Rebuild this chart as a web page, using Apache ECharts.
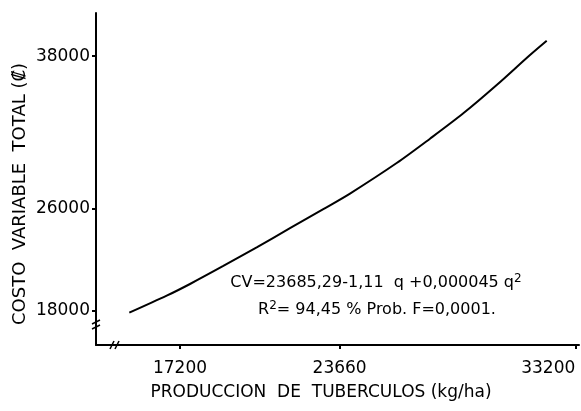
<!DOCTYPE html>
<html>
<head>
<meta charset="utf-8">
<script src="https://cdn.jsdelivr.net/npm/echarts@6/dist/echarts.min.js"></script>
<style>
html,body{margin:0;padding:0;background:#fff;}
#c{width:581px;height:411px;}
</style>
</head>
<body>
<div id="c"></div>
<script>
// Data
var produccion = [15148, 16662, 17605, 18953, 20305, 21652, 23000, 24081, 25971, 27319, 28667, 30019, 31367, 32043];
var costo      = [17839, 19176, 20096, 21511, 22980, 24480, 25980, 27206, 29606, 31520, 33515, 35740, 38099, 39223];
var xTicks = [17200, 23660, 33200];
var yTicks = [18000, 26000, 38000];
var xTitle = 'PRODUCCION  DE  TUBERCULOS (kg/ha)';
var yTitle = 'COSTO  VARIABLE  TOTAL (\u20A1)';
var eqLine1 = 'CV=23685,29-1,11  q +0,000045 q';
var eqLine2a = 'R';
var eqLine2b = '= 94,45 % Prob. F=0,0001.';

var FONT = 'DejaVu Sans';
var points = produccion.map(function (x, i) { return [x, costo[i]]; });

var chart = echarts.init(document.getElementById('c'));
chart.setOption({
  animation: false,
  backgroundColor: '#fff',
  grid: { left: 96, right: 2, top: 13, bottom: 66, containLabel: false, outerBoundsMode: 'none' },
  xAxis: {
    type: 'value', min: 13800, max: 33350,
    splitLine: { show: false },
    axisLine: { show: true, lineStyle: { color: '#000', width: 2 } },
    axisTick: { show: true, customValues: xTicks, length: 4, lineStyle: { color: '#000', width: 2 } },
    axisLabel: { customValues: xTicks, color: '#000', fontFamily: FONT, fontSize: 17, margin: 15,
      alignMaxLabel: 'right',
      formatter: function (v) { return String(v); } }
  },
  yAxis: {
    type: 'value', min: 15300, max: 41400,
    splitLine: { show: false },
    axisLine: { show: true, lineStyle: { color: '#000', width: 2 } },
    axisTick: { show: true, customValues: yTicks, length: 4, lineStyle: { color: '#000', width: 2 } },
    axisLabel: { customValues: yTicks, color: '#000', fontFamily: FONT, fontSize: 17, margin: 6,
      formatter: function (v) { return String(v); } }
  },
  series: [{
    type: 'line',
    data: points,
    smooth: 0.3,
    showSymbol: false,
    lineStyle: { color: '#000', width: 2 }
  }],
  graphic: [
    { type: 'text', x: 20, y: 194, rotation: Math.PI / 2,
      style: { text: yTitle, fill: '#000', font: '18px "' + FONT + '"', align: 'center', verticalAlign: 'middle' } },
    { type: 'text', x: 321, y: 393,
      style: { text: xTitle, fill: '#000', font: '17px "' + FONT + '"', align: 'center', verticalAlign: 'middle' } },
    { type: 'text', x: 376, y: 283,
      style: { text: '{a|' + eqLine1 + '}{s|2}', align: 'center', verticalAlign: 'middle',
        rich: { a: { fontFamily: FONT, fontSize: 16, fill: '#000', color: '#000', lineHeight: 20 },
                s: { fontFamily: FONT, fontSize: 12, fill: '#000', color: '#000', verticalAlign: 'top', lineHeight: 12 } } } },
    { type: 'text', x: 377, y: 310,
      style: { text: '{a|' + eqLine2a + '}{s|2}{a|' + eqLine2b + '}', align: 'center', verticalAlign: 'middle',
        rich: { a: { fontFamily: FONT, fontSize: 16, fill: '#000', color: '#000', lineHeight: 20 },
                s: { fontFamily: FONT, fontSize: 12, fill: '#000', color: '#000', verticalAlign: 'top', lineHeight: 12 } } } },
    // axis break marks
    { type: 'line', shape: { x1: 92, y1: 324, x2: 100, y2: 320 }, style: { stroke: '#000', lineWidth: 1.5 } },
    { type: 'line', shape: { x1: 92, y1: 329, x2: 100, y2: 325 }, style: { stroke: '#000', lineWidth: 1.5 } },
    { type: 'line', shape: { x1: 110, y1: 349, x2: 114, y2: 341 }, style: { stroke: '#000', lineWidth: 1.5 } },
    { type: 'line', shape: { x1: 115, y1: 349, x2: 119, y2: 341 }, style: { stroke: '#000', lineWidth: 1.5 } }
  ]
});
</script>
</body>
</html>
